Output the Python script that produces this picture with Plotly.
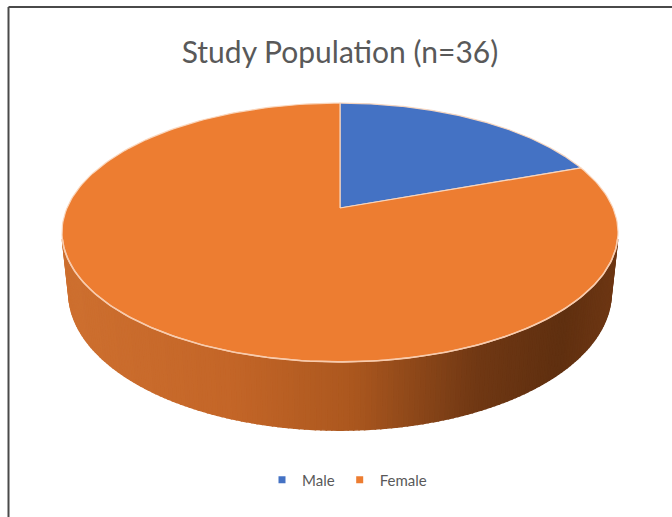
import numpy as np
import plotly.graph_objects as go

# ---- data ----
categories = ["Male", "Female"]
counts = [7, 29]
top_colors = ["#4472C4", "#ED7D31"]
title_text = "Study Population (n=36)"

# ---- 3D pie projection setup (perspective camera) ----
W, H = 672, 517
CX, CY = 340.0, 208.0          # screen position of pie centre (top face)
PHI = np.radians(27.2)         # camera elevation
S, C = np.sin(PHI), np.cos(PHI)
D = 4.70                       # camera distance (in pie radii)
F = 1283.0                     # focal length (px)
HGT = 0.25                     # pie thickness (in pie radii)


def project(theta_deg, y=0.0):
    """theta clockwise from 12 o'clock (far side); y = height (0 top, -HGT bottom)."""
    t = np.radians(np.asarray(theta_deg, dtype=float))
    X = np.sin(t)
    Z = np.cos(t)
    depth = D + Z * C - y * S
    up = y * C + Z * S
    return CX + F * X / depth, CY - F * up / depth


def centre(y=0.0):
    depth = D - y * S
    up = y * C
    return CX, CY - F * up / depth


total = sum(counts)
bounds = np.concatenate([[0.0], np.cumsum(counts) / total * 360.0])

fig = go.Figure()

# ---- side wall (visible front portion), shaded quads ----
lim = np.degrees(np.arccos(-1.0 / (D * C)))
th = np.linspace(lim, 360 - lim, 160)
stops = [(0.0, (206, 112, 48)), (0.3, (196, 102, 40)), (0.52, (172, 88, 31)),
         (0.75, (112, 56, 20)), (0.9, (96, 48, 16)), (1.0, (110, 55, 20))]


def side_color(t):
    for (a, ca), (b, cb) in zip(stops[:-1], stops[1:]):
        if a <= t <= b:
            f = (t - a) / (b - a)
            return "rgb(%d,%d,%d)" % tuple(int(ca[i] + f * (cb[i] - ca[i])) for i in range(3))
    return "rgb(%d,%d,%d)" % stops[-1][1]


xs_top, ys_top = project(th, 0.0)
xs_bot, ys_bot = project(th, -HGT)
xmin, xmax = xs_top.min(), xs_top.max()
for i in range(len(th) - 1):
    qx = [xs_top[i], xs_top[i + 1], xs_bot[i + 1], xs_bot[i], xs_top[i]]
    qy = [ys_top[i], ys_top[i + 1], ys_bot[i + 1], ys_bot[i], ys_top[i]]
    tx = ((xs_top[i] + xs_top[i + 1]) / 2 - xmin) / (xmax - xmin)
    col = side_color(tx)
    fig.add_trace(go.Scatter(x=qx, y=qy, mode="lines", fill="toself",
                             fillcolor=col, line=dict(color=col, width=1.6),
                             hoverinfo="skip", showlegend=False))

# ---- top face slices ----
cx0, cy0 = centre(0.0)
for k, name in enumerate(categories):
    a = np.linspace(bounds[k], bounds[k + 1], 200)
    px, py = project(a, 0.0)
    fig.add_trace(go.Scatter(
        x=np.concatenate([[cx0], px, [cx0]]),
        y=np.concatenate([[cy0], py, [cy0]]),
        mode="lines", fill="toself", fillcolor=top_colors[k],
        line=dict(color="rgba(250,215,190,0.95)", width=1.2),
        hoverinfo="skip", showlegend=False))

# ---- light rim along front edge ----
rim = np.linspace(lim, 360 - lim, 200)
rx, ry = project(rim, 0.0)
fig.add_trace(go.Scatter(x=rx, y=ry, mode="lines",
                         line=dict(color="#F8CBAD", width=1.6),
                         hoverinfo="skip", showlegend=False))

# ---- legend entries ----
for k, name in enumerate(categories):
    fig.add_trace(go.Scatter(x=[None], y=[None], mode="markers", name=name,
                             marker=dict(symbol="square", size=7, color=top_colors[k])))

fig.update_layout(
    width=W, height=H,
    margin=dict(l=0, r=0, t=0, b=0),
    paper_bgcolor="white", plot_bgcolor="white",
    font=dict(family="Lato, 'Open Sans', sans-serif", color="#595959"),
    title=dict(text=title_text, x=340 / W, xanchor="center",
               y=1 - 52 / H, yanchor="middle",
               font=dict(size=30, color="#595959")),
    xaxis=dict(range=[0, W], visible=False, fixedrange=True),
    yaxis=dict(range=[H, 0], visible=False, fixedrange=True),
    legend=dict(orientation="h", x=347 / W, xanchor="center",
                y=1 - 480 / H, yanchor="middle",
                font=dict(size=15, color="#595959"),
                itemwidth=30, bgcolor="rgba(0,0,0,0)"),
    shapes=[
        dict(type="line", xref="paper", yref="paper",
             x0=8.5 / W, x1=8.5 / W, y0=0, y1=1 - 7 / H,
             line=dict(color="#4a4a4a", width=2)),
        dict(type="line", xref="paper", yref="paper",
             x0=8.5 / W, x1=1, y0=1 - 7 / H, y1=1 - 7 / H,
             line=dict(color="#4a4a4a", width=2)),
    ],
)

fig.write_html("out.html")
